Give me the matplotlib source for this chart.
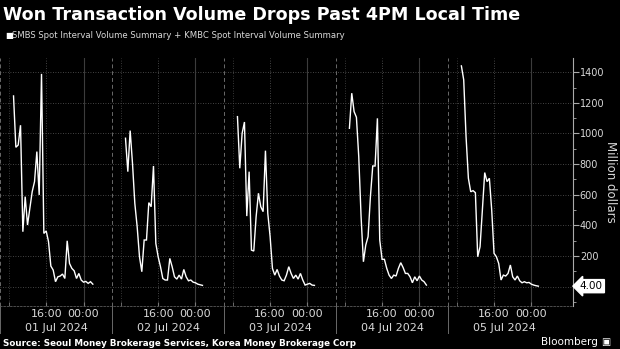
import matplotlib.pyplot as plt
import matplotlib.transforms as mtransforms
import numpy as np

# 30-minute volumes, 09:00 to ~02:00 next day (million dollars)
day1 = [1245, 910, 925, 1054, 359, 588, 403, 512, 620, 686, 882, 599, 1389, 348, 364,
        294, 135, 109, 33, 65, 70, 83, 54, 300, 152, 120, 104, 54, 87, 44, 30, 35, 22, 33, 17]
day2 = [969, 751, 1019, 805, 544, 392, 196, 98, 305, 305, 549, 522, 788, 283, 196,
        131, 54, 44, 44, 185, 131, 65, 50, 76, 50, 113, 65, 39, 44, 30, 26, 17, 13, 9]
day3 = [1110, 773, 1001, 1075, 461, 751, 239, 233, 457, 610, 522, 490, 888, 479, 327,
        120, 76, 113, 70, 44, 39, 76, 131, 87, 54, 76, 50, 87, 44, 11, 17, 22, 11, 9]
day4 = [1034, 1263, 1143, 1106, 849, 457, 163, 272, 327, 588, 788, 788, 1099, 305, 179,
        179, 120, 76, 54, 76, 70, 120, 157, 126, 87, 87, 65, 26, 65, 39, 70, 44, 33, 11]
day5 = [1441, 1350, 980, 708, 620, 627, 614, 196, 261, 501, 745, 686, 708, 501, 218,
        196, 152, 44, 76, 70, 87, 142, 65, 44, 70, 39, 26, 33, 26, 28, 17, 11, 7, 4]
days = [day1, day2, day3, day4, day5]
date_labels = ['01 Jul 2024', '02 Jul 2024', '03 Jul 2024', '04 Jul 2024', '05 Jul 2024']
y_ticks = [200, 400, 600, 800, 1000, 1200, 1400]
last_value = 4.00

fg = '#d8d8d8'
fig = plt.figure(figsize=(6.2, 3.49), dpi=100, facecolor='black')
ax = fig.add_axes([0.0, 0.123, 0.924, 0.711], facecolor='black')

# hours since 01 Jul 00:00, gaps between days
for d, vals in enumerate(days):
    t = 24 * d + 9 + 0.5 * np.arange(len(vals))
    ax.plot(t, vals, color='white', lw=1.0, solid_joinstyle='miter')

x0, x1 = 6.1, 128.9
ax.set_xlim(x0, x1)
ax.set_ylim(-126, 1493)

# grid
for v in [0] + y_ticks:
    ax.axhline(v, color='#5a5a5a', lw=0.6, ls=(0, (1, 2)), zorder=0)
trans = mtransforms.blended_transform_factory(ax.transData, ax.transAxes)
for d in range(5):
    base = 24 * d
    ax.axvline(base + 8, color='#4a4a4a', lw=0.6, ls=(0, (1, 2)), zorder=0)
    ax.axvline(base + 16, color='#5a5a5a', lw=0.6, ls=(0, (1, 2)), zorder=0)
    ax.axvline(base + 24, color='#3c3c3c', lw=0.8, zorder=0)
    sep = base + 6.2
    ax.axvline(sep, color='#6a6a6a', lw=0.7, ls=(0, (4, 3)), zorder=0)
    ax.axvline(sep, ymin=-0.11, ymax=0, color='#6a6a6a', lw=0.7, clip_on=False)
    ax.text(base + 18.2, -0.09, date_labels[d], transform=trans,
            ha='center', va='center', color=fg, fontsize=8)

# x ticks
major = []
labels = []
for d in range(5):
    major += [24 * d + 16, 24 * d + 24]
    labels += ['16:00', '00:00']
ax.set_xticks(major, labels)
ax.set_xticks([24 * d + 8 for d in range(5)], minor=True)
ax.tick_params(axis='x', which='both', direction='in', length=3, color='#777', labelcolor=fg,
               labelsize=8, pad=2)

# y axis on right
ax.yaxis.tick_right()
ax.set_yticks(y_ticks)
ax.set_yticks(np.arange(-100, 1500, 100), minor=True)
ax.tick_params(axis='y', which='major', length=4, color='#aaa', labelcolor=fg, labelsize=7, pad=1)
ax.tick_params(axis='y', which='minor', length=2, color='#aaa')
ax.yaxis.set_label_position('right')
ax.set_ylabel('Million dollars', rotation=-90, color=fg, fontsize=8.5, labelpad=9)

for s in ['top', 'left']:
    ax.spines[s].set_visible(False)
ax.spines['right'].set_color('#aaa')
ax.spines['right'].set_linewidth(0.8)
ax.spines['bottom'].set_color('#5a5a5a')
ax.spines['bottom'].set_linestyle((0, (2, 2)))
ax.spines['bottom'].set_linewidth(0.6)

# last value tag
ax.annotate('%.2f' % last_value, xy=(1.0, last_value), xycoords=('axes fraction', 'data'),
            xytext=(5, 0), textcoords='offset points', ha='left', va='center', fontsize=7.5,
            color='black', bbox=dict(boxstyle='larrow,pad=0.15', fc='white', ec='white'),
            annotation_clip=False)

fig.text(0.005, 0.958, 'Won Transaction Volume Drops Past 4PM Local Time', color='white',
         fontsize=12.6, fontweight='bold', ha='left', va='center')
fig.text(0.009, 0.897, '\u25a0', color='white', fontsize=6, ha='left', va='center')
fig.text(0.02, 0.897, 'SMBS Spot Interval Volume Summary + KMBC Spot Interval Volume Summary',
         color=fg, fontsize=6.1, ha='left', va='center')
fig.text(0.005, 0.017, 'Source: Seoul Money Brokerage Services, Korea Money Brokerage Corp',
         color='white', fontsize=6.35, fontweight='bold', ha='left', va='center')
fig.text(0.965, 0.02, 'Bloomberg', color='white', fontsize=7.5, ha='right', va='center')
fig.text(0.985, 0.02, '\u25a3', color='white', fontsize=7, ha='right', va='center')

fig.savefig('out.png', dpi=100, facecolor='black')
